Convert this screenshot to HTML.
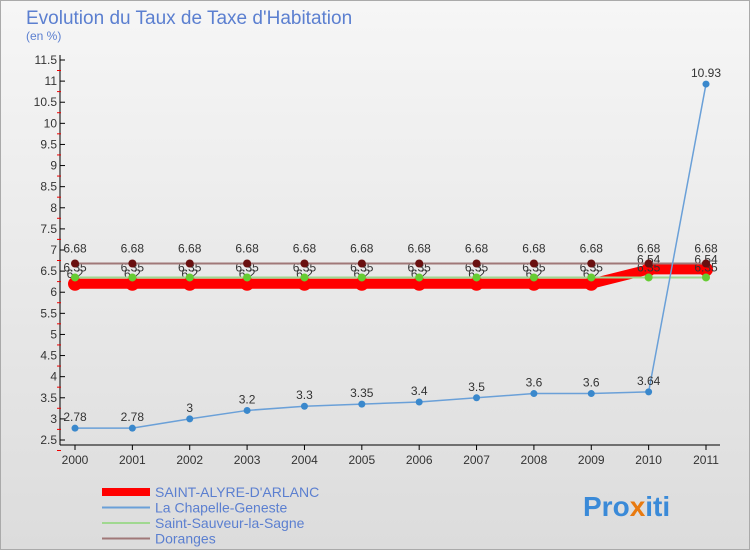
<!DOCTYPE html>
<html><head><meta charset="utf-8"><style>
body{margin:0;width:750px;height:550px;overflow:hidden;font-family:"Liberation Sans",sans-serif}
svg{display:block}
</style></head><body>
<svg width="750" height="550">
<defs><linearGradient id="bg" x1="0" y1="0" x2="0" y2="1"><stop offset="0" stop-color="#f6f6f6"/><stop offset="1" stop-color="#dcdcdc"/></linearGradient></defs>
<rect width="750" height="550" fill="url(#bg)"/>
<rect x="0.5" y="0.5" width="749" height="549" fill="none" stroke="#aaa"/>
<text x="26" y="24" font-size="19" fill="#5b7fd0">Evolution du Taux de Taxe d'Habitation</text>
<text x="26" y="40" font-size="12" fill="#5b7fd0">(en %)</text>
<g id="axes"></g><g id="series"></g><g id="legend"></g>
<text x="583" y="516" font-size="28" font-weight="bold" fill="#3a8ad8">Pro<tspan fill="#e87a10">x</tspan>iti</text>
</svg>
<script>
const years=["2000","2001","2002","2003","2004","2005","2006","2007","2008","2009","2010","2011"];
const yTicks=[2.5,3,3.5,4,4.5,5,5.5,6,6.5,7,7.5,8,8.5,9,9.5,10,10.5,11,11.5];
const saintAlyre=[6.2,6.2,6.2,6.2,6.2,6.2,6.2,6.2,6.2,6.2,6.54,6.54];
const chapelle=[2.78,2.78,3,3.2,3.3,3.35,3.4,3.5,3.6,3.6,3.64,10.93];
const sauveur=[6.35,6.35,6.35,6.35,6.35,6.35,6.35,6.35,6.35,6.35,6.35,6.35];
const doranges=[6.68,6.68,6.68,6.68,6.68,6.68,6.68,6.68,6.68,6.68,6.68,6.68];
const NS="http://www.w3.org/2000/svg";
const X=i=>75+i*(706-75)/11;
const Y=v=>440-(v-2.5)*(380/9);
function mk(t,a,p){const e=document.createElementNS(NS,t);for(const k in a)e.setAttribute(k,a[k]);if(p)p.appendChild(e);return e;}
const ax=document.getElementById('axes'),sr=document.getElementById('series'),lg=document.getElementById('legend');
let l=mk('line',{x1:60,y1:55,x2:60,y2:445,stroke:'#000'},ax);


l=mk('line',{x1:60,y1:445,x2:720,y2:445,stroke:'#000'},ax);


yTicks.forEach(v=>{const y=Y(v);
 mk('line',{x1:60,y1:y,x2:65,y2:y,stroke:'#000'},ax);
 mk('line',{x1:57,y1:y+10.5,x2:61,y2:y+10.5,stroke:'#e00'},ax);
 const t=mk('text',{x:57,y:y+4,'font-size':12,'text-anchor':'end',fill:'#333'},ax);t.textContent=String(v);
 
 });
years.forEach((yr,i)=>{mk('line',{x1:X(i),y1:445,x2:X(i),y2:450,stroke:'#000'},ax);
 const t=mk('text',{x:X(i),y:464,'font-size':12,'text-anchor':'middle',fill:'#333'},ax);t.textContent=yr;
 
 });
function series(vals,name,color,w,r,dot,lab,dy){
 const g=mk('g',{},sr);
 
 
 mk('polyline',{points:vals.map((v,i)=>X(i)+','+Y(v)).join(' '),fill:'none',stroke:color,'stroke-width':w,'stroke-linejoin':'round'},g);
 vals.forEach((v,i)=>{const c=mk('circle',{cx:X(i),cy:Y(v),r:r,fill:dot},g);
  
  
  if(lab){const t=mk('text',{x:X(i),y:Y(v)+dy,'font-size':12,'text-anchor':'middle',fill:'#333'},g);t.textContent=String(v);}});
}
series(saintAlyre,'saint-alyre-series','#f00',10,7,'#f00',true,-6);
series(sauveur,'saint-sauveur-series','#a0d890',2,4,'#6c3',true,-6);
series(doranges,'doranges-series','#a07878',2,4,'#6a1010',true,-11);
series(chapelle,'chapelle-series','#6aa0d8',1.5,3.5,'#3a88cc',true,-7);
const leg=[['SAINT-ALYRE-D\'ARLANC','#f00',8],['La Chapelle-Geneste','#6aa0d8',2],['Saint-Sauveur-la-Sagne','#a0d890',2],['Doranges','#a07878',2]];
leg.forEach((e,i)=>{const y=492+i*15.5;const g=mk('g',{},lg);
 
 
 mk('line',{x1:102,y1:y,x2:150,y2:y,stroke:e[1],'stroke-width':e[2]},g);
 const t=mk('text',{x:155,y:y+5,'font-size':14,fill:'#5b7fd0'},g);t.textContent=e[0];});
</script>
</body></html>
